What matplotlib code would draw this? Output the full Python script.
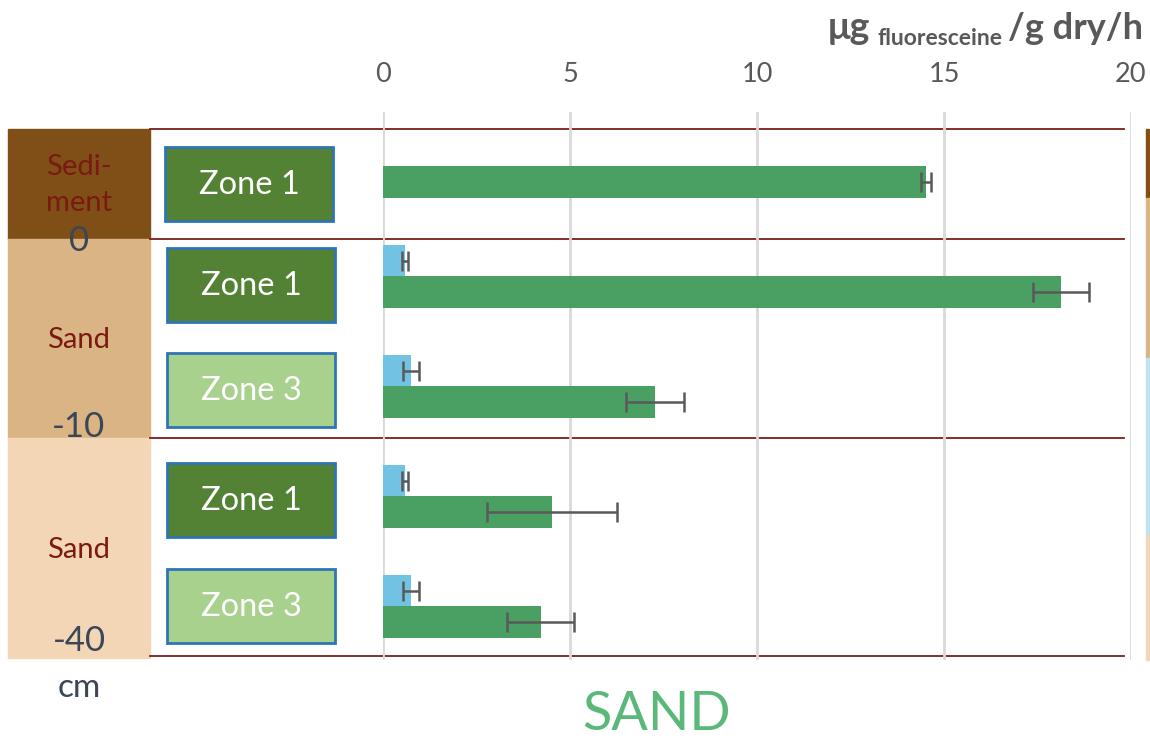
import matplotlib.pyplot as plt
from matplotlib.patches import Rectangle
import numpy as np

plt.rcParams['font.family'] = ['Lato', 'DejaVu Sans']

# data, one entry per bar group (top to bottom)
zones = ['Zone 1', 'Zone 1', 'Zone 3', 'Zone 1', 'Zone 3']
green_vals = [14.52, 18.13, 7.27, 4.52, 4.22]
green_err = [0.14, 0.74, 0.78, 1.75, 0.90]
blue_vals = [np.nan, 0.59, 0.75, 0.59, 0.75]
blue_err = [np.nan, 0.07, 0.21, 0.07, 0.21]
layers = ['Sedi-\nment', 'Sand', 'Sand']
depths = ['0', '-10', '-40']
xticks = [0, 5, 10, 15, 20]

W, H = 1150, 741
fig = plt.figure(figsize=(W / 100, H / 100), dpi=100)

# background axes in pixel units for the layout pieces
bg = fig.add_axes([0, 0, 1, 1])
bg.set_xlim(0, W)
bg.set_ylim(H, 0)
bg.axis('off')

# main bar axes: x 0 at px 383, 20 at px 1131; rows 110 px apart
top_px, bot_px = 112, 660
ax = fig.add_axes([383 / W, 1 - bot_px / H, (1131 - 383) / W, (bot_px - top_px) / H])
ax.set_xlim(0, 20)
ax.set_ylim((bot_px - 182) / 110, (top_px - 182) / 110)
ax.patch.set_alpha(0)
for s in ax.spines.values():
    s.set_visible(False)
ax.set_xticks(xticks)
ax.tick_params(axis='x', top=False, bottom=False, labeltop=False, labelbottom=False, length=0)
ax.set_yticks([])
ax.grid(axis='x', color='#d9d9d9', lw=2)
ax.set_axisbelow(True)

rows = np.arange(len(zones))
bh = 31.5 / 110
green_c = '#4a9f62'
blue_c = '#72c3e3'
ax.barh(rows, green_vals, height=bh, color=green_c, zorder=2)
ax.barh(rows - bh, blue_vals, height=bh, color=blue_c, zorder=2)
ax.errorbar(green_vals, rows, xerr=green_err, fmt='none', ecolor='#595959',
            elinewidth=1.8, capsize=7, capthick=1.8, zorder=3)
ax.errorbar(blue_vals, rows - bh, xerr=blue_err, fmt='none', ecolor='#595959',
            elinewidth=1.8, capsize=7, capthick=1.8, zorder=3)

# tick labels on top
for t in xticks:
    x_px = 383 + t * (1131 - 383) / 20
    bg.text(x_px, 74, str(t), ha='center', va='center', fontsize=19.5, color='#595959')

# unit label
bg.text(828, 39, 'μg', ha='left', va='baseline', fontsize=27, fontweight='bold', color='#595959')
bg.text(877, 45, 'fluoresceine', ha='left', va='baseline', fontsize=16.5, fontweight='bold', color='#595959')
bg.text(1143, 39, '/g dry/h', ha='right', va='baseline', fontsize=26, fontweight='bold', color='#595959')

# left soil column
bands = [(129, 239, '#7f4f17'), (239, 438, '#dbb486'), (438, 658, '#f2d6b6')]
for (y0, y1, c), lab in zip(bands, layers):
    bg.add_patch(Rectangle((8, y0), 142, y1 - y0, color=c, zorder=1))
for yc, lab in zip([185, 340, 550], layers):
    bg.text(79, yc, lab, ha='center', va='center', fontsize=21, color='#7a1a10',
            linespacing=1.45, zorder=3)
for yc, lab in zip([241, 427, 641], depths):
    bg.text(79, yc, lab, ha='center', va='center', fontsize=25, color='#3b4656', zorder=3)
bg.text(79, 688, 'cm', ha='center', va='center', fontsize=24, color='#3b4656')

# right thin strip
strip = [(129, 198, '#7f4f17'), (198, 358, '#dbb486'), (358, 535, '#bde3f4'), (535, 660, '#f2d6b6')]
for y0, y1, c in strip:
    bg.add_patch(Rectangle((1146, y0), 3, y1 - y0, color=c, zorder=1))

# separators
for y in [129, 239, 438, 656]:
    bg.plot([150, 1124], [y, y], color='#7a1f1a', lw=1.3, zorder=4)

# zone boxes
box_c = {'Zone 1': '#548235', 'Zone 3': '#a9d18e'}
box_y = [184, 285, 390, 500, 606]
for i, (z, yc) in enumerate(zip(zones, box_y)):
    x0 = 165 if i == 0 else 167
    bg.add_patch(Rectangle((x0, yc - 37), 168, 74, facecolor=box_c[z],
                           edgecolor='#2e75b6', lw=2, zorder=2))
    bg.text(x0 + 84, yc + 1, z, ha='center', va='center', fontsize=23.5, color='white', zorder=3)

bg.text(657, 714, 'SAND', ha='center', va='center', fontsize=39, color='#5bb87a')

fig.savefig('out.png', dpi=100)
